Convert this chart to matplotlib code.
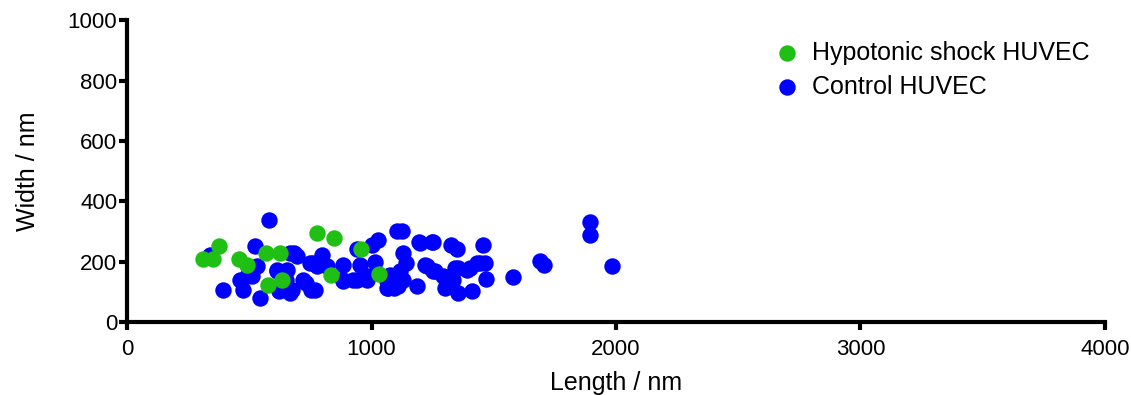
import matplotlib.pyplot as plt

plt.rcParams["font.family"] = ["Liberation Sans", "DejaVu Sans"]

# --------------------------------------------------------------------------- #
# Data
# --------------------------------------------------------------------------- #
hypo_length = [310, 352, 376, 457, 489, 567, 626, 577, 635, 778, 847, 835, 958, 1032]
hypo_width  = [207, 210, 253, 207, 190, 230, 230, 123, 138, 295, 277, 154, 240, 158]

ctrl_length = [
    339, 394, 462, 475, 489, 511, 523, 530, 544, 581, 612, 612, 622, 651,
    653, 667, 667, 676, 681, 694, 721, 732, 749, 753, 762, 769, 776, 796,
    817, 885, 885, 885, 926, 939, 939, 953, 980, 987, 1001, 1014, 1028,
    1063, 1063, 1069, 1069, 1076, 1090, 1104, 1110, 1117, 1123, 1130, 1130,
    1141, 1185, 1194, 1198, 1219, 1226, 1246, 1250, 1253, 1260, 1294, 1301,
    1307, 1325, 1335, 1342, 1348, 1355, 1355, 1389, 1403, 1409, 1430, 1444,
    1455, 1464, 1468, 1580, 1689, 1705, 1894, 1894, 1982,
]
ctrl_width = [
    223, 107, 140, 107, 151, 151, 251, 184, 80, 338, 168, 173, 101, 140,
    173, 229, 96, 107, 229, 218, 140, 129, 195, 107, 195, 107, 184, 223,
    184, 190, 140, 134, 140, 140, 240, 190, 140, 151, 256, 200, 273,
    134, 112, 151, 112, 157, 112, 300, 118, 168, 301, 229, 140,
    195, 120, 264, 263, 190, 184, 264, 168, 264, 168, 151, 112,
    118, 256, 140, 179, 240, 96, 179, 173, 179, 101, 195, 195,
    254, 195, 142, 149, 201, 187, 331, 287, 184,
]

# --------------------------------------------------------------------------- #
# Plot
# --------------------------------------------------------------------------- #
fig = plt.figure(figsize=(11.31, 3.95), dpi=100)
ax = fig.add_axes([0.1123, 0.185, 0.977 - 0.1123, 0.949 - 0.185])

GREEN = "#1fbf14"
BLUE = "#0000ff"

ax.scatter(ctrl_length, ctrl_width, s=140, color=BLUE, linewidths=0,
           label="Control HUVEC", zorder=3, clip_on=False)
ax.scatter(hypo_length, hypo_width, s=140, color=GREEN, linewidths=0,
           label="Hypotonic shock HUVEC", zorder=4, clip_on=False)

ax.set_xlim(0, 4000)
ax.set_ylim(0, 1000)
ax.set_xticks([0, 1000, 2000, 3000, 4000])
ax.set_yticks([0, 200, 400, 600, 800, 1000])

for side in ("top", "right"):
    ax.spines[side].set_visible(False)
for side in ("left", "bottom"):
    ax.spines[side].set_linewidth(3)
    ax.spines[side].set_capstyle("projecting")

ax.tick_params(axis="both", direction="out", length=6, width=3,
               labelsize=16, pad=1)
ax.tick_params(axis="x", pad=6)

ax.set_xlabel("Length / nm", fontsize=18, labelpad=8)
ax.set_ylabel("Width / nm", fontsize=18, labelpad=20)

handles, labels = ax.get_legend_handles_labels()
ax.legend(handles[::-1], labels[::-1], loc="upper left",
          bbox_to_anchor=(0.662, 0.932), frameon=False, fontsize=18,
          handlelength=1.0, handletextpad=0.5, labelspacing=0.4,
          borderpad=0, borderaxespad=0)

fig.savefig("out.png", dpi=100)
